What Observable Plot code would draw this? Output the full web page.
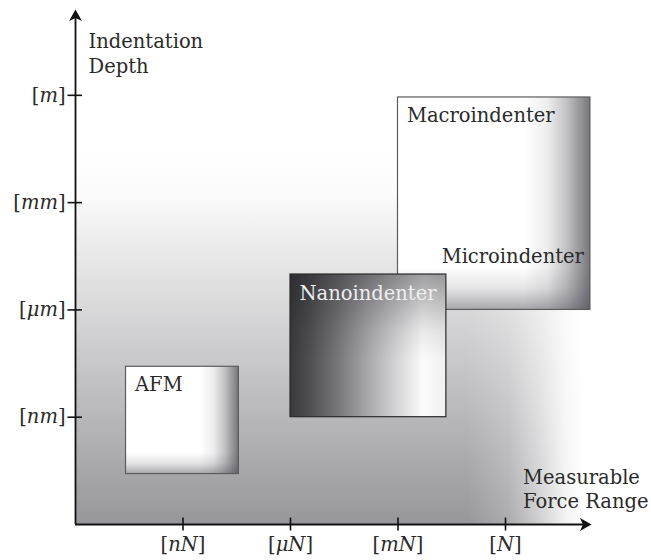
<!DOCTYPE html>
<html><head><meta charset="utf-8">
<script src="https://cdn.jsdelivr.net/npm/d3@7"></script>
<script src="https://cdn.jsdelivr.net/npm/@observablehq/plot@0.6"></script>
<style>body{margin:0;background:#fff} svg{display:block}</style>
</head><body>
<div id="chart"></div>
<script>
// ---- data (log-decade units: 1 = n, 2 = µ, 3 = m, 4 = unit) ----
const instruments = ["AFM", "Nanoindenter", "Macroindenter"];
const forceFrom = [0.47, 2.0, 3.0];
const forceTo   = [1.52, 3.45, 4.79];
const depthFrom = [0.47, 1.0, 2.0];
const depthTo   = [1.47, 2.33, 3.98];
const shading   = ["soft", "dark", "soft"];

const forceTicks  = [1, 2, 3, 4];
const forceLabels = ["[nN]", "[μN]", "[mN]", "[N]"];
const depthTicks  = [1, 2, 3, 4];
const depthLabels = ["[nm]", "[μm]", "[mm]", "[m]"];

const axisMax = 4.8;
const backgroundForce = [0, 4.8];
const backgroundDepth = [0, 3.5];

const innerLabel = ["Microindenter"];
const innerLabelForce = [4.79];
const innerLabelDepth = [2.0];

const yTitle = "Indentation\nDepth";
const xTitle = "Measurable\nForce Range";

// ---- tables ----
const boxes = instruments.map((name, i) => ({name, x1: forceFrom[i], x2: forceTo[i], y1: depthFrom[i], y2: depthTo[i], shade: shading[i]}));
const soft = boxes.filter(d => d.shade === "soft");
const dark = boxes.filter(d => d.shade === "dark");
const bg = [{x1: backgroundForce[0], x2: backgroundForce[1], y1: backgroundDepth[0], y2: backgroundDepth[1]}];
const xT = forceTicks.map((v, i) => ({v, label: forceLabels[i]}));
const yT = depthTicks.map((v, i) => ({v, label: depthLabels[i]}));
const inner = innerLabel.map((t, i) => ({t, x: innerLabelForce[i], y: innerLabelDepth[i]}));

const FONT = "DejaVu Serif";
const FS = 19.5;
const INK = "#2a2a2a";

const arrowUp = {draw(ctx) { ctx.moveTo(0, 0); ctx.lineTo(6.5, 11.5); ctx.lineTo(0, 8.5); ctx.lineTo(-6.5, 11.5); ctx.closePath(); }};
const arrowRight = {draw(ctx) { ctx.moveTo(0, 0); ctx.lineTo(-11.5, 6.5); ctx.lineTo(-8.5, 0); ctx.lineTo(-11.5, -6.5); ctx.closePath(); }};

const svg = Plot.plot({
  width: 651, height: 560,
  marginLeft: 75, marginRight: 60, marginTop: 9, marginBottom: 36,
  x: {domain: [0, axisMax], axis: null},
  y: {domain: [0, axisMax], axis: null},
  style: {fontFamily: FONT, background: "#fff"},
  marks: [
    Plot.rect(bg, {x1: "x1", x2: "x2", y1: "y1", y2: "y2", fill: "url(#bgGrad)"}),
    Plot.rect(bg, {x1: "x1", x2: "x2", y1: "y1", y2: "y2", fill: "url(#bgFade)"}),
    Plot.rect(soft, {x1: "x1", x2: "x2", y1: "y1", y2: "y2", fill: "#ffffff"}),
    Plot.rect(soft, {x1: "x1", x2: "x2", y1: "y1", y2: "y2", fill: "url(#shadeR)"}),
    Plot.rect(soft, {x1: "x1", x2: "x2", y1: "y1", y2: "y2", fill: "url(#shadeB)"}),
    Plot.rect(soft, {x1: "x1", x2: "x2", y1: "y1", y2: "y2", fill: "none", stroke: "#5c5c5e", strokeWidth: 1.2}),
    Plot.rect(dark, {x1: "x1", x2: "x2", y1: "y1", y2: "y2", fill: "url(#nanoH)"}),
    Plot.rect(dark, {x1: "x1", x2: "x2", y1: "y1", y2: "y2", fill: "url(#nanoV)"}),
    Plot.rect(dark, {x1: "x1", x2: "x2", y1: "y1", y2: "y2", fill: "none", stroke: "#2a2a2c", strokeWidth: 1.2}),
    Plot.text(soft, {x: "x1", y: "y2", text: "name", textAnchor: "start", lineAnchor: "middle", dx: 9, dy: 17.8, fontSize: FS, fontFamily: FONT, fill: INK}),
    Plot.text(dark, {x: "x1", y: "y2", text: "name", textAnchor: "start", lineAnchor: "middle", dx: 9, dy: 18.8, fontSize: FS, fontFamily: FONT, fill: "#eeeeee"}),
    Plot.text(inner, {x: "x", y: "y", text: "t", textAnchor: "end", lineAnchor: "middle", dx: -6.5, dy: -53, fontSize: FS, fontFamily: FONT, fill: INK}),
    // axes
    Plot.ruleX([0], {y1: 0, y2: axisMax - 0.06, stroke: "#111", strokeWidth: 1.8}),
    Plot.ruleY([0], {x1: 0, x2: axisMax - 0.06, stroke: "#111", strokeWidth: 1.8}),
    Plot.dot([0], {x: 0, y: axisMax, symbol: arrowUp, fill: "#111", stroke: "none", r: 5}),
    Plot.dot([0], {x: axisMax, y: 0, symbol: arrowRight, fill: "#111", stroke: "none", r: 5}),
    Plot.ruleX(xT, {x: "v", y1: -0.06, y2: 0.06, stroke: "#111", strokeWidth: 1.6}),
    Plot.ruleY(yT, {y: "v", x1: -0.07, x2: 0.065, stroke: "#111", strokeWidth: 1.6}),
    Plot.text(xT, {x: "v", y: 0, text: "label", textAnchor: "middle", lineAnchor: "middle", dy: 20, fontSize: FS, fontFamily: FONT, fill: INK}),
    Plot.text(yT, {x: 0, y: "v", text: "label", textAnchor: "end", lineAnchor: "middle", dx: -10, fontSize: FS, fontFamily: FONT, fill: INK}),
    Plot.text([yTitle], {x: 0, y: axisMax, text: d => d, textAnchor: "start", lineAnchor: "top", lineHeight: 1.282, dx: 13, dy: 20.3, fontSize: FS, fontFamily: FONT, fill: INK}),
    Plot.text([xTitle], {x: axisMax, y: 0, text: d => d, textAnchor: "start", lineAnchor: "top", lineHeight: 1.23, dx: -68.5, dy: -58, fontSize: FS, fontFamily: FONT, fill: INK})
  ]
});

// gradient definitions
const NS = "http://www.w3.org/2000/svg";
const defs = document.createElementNS(NS, "defs");
function grad(id, vertical, stops) {
  const g = document.createElementNS(NS, "linearGradient");
  g.setAttribute("id", id);
  g.setAttribute("x1", 0); g.setAttribute("y1", 0);
  g.setAttribute("x2", vertical ? 0 : 1); g.setAttribute("y2", vertical ? 1 : 0);
  for (const [o, c, a] of stops) {
    const s = document.createElementNS(NS, "stop");
    s.setAttribute("offset", o);
    s.setAttribute("stop-color", c);
    s.setAttribute("stop-opacity", a == null ? 1 : a);
    g.appendChild(s);
  }
  defs.appendChild(g);
}
grad("bgGrad", true, [[0, "#ffffff"], [0.12, "#fbfbfb"], [1, "#97979b"]]);
grad("bgFade", false, [[0, "#ffffff", 0], [0.76, "#ffffff", 0], [0.84, "#ffffff", 0.2], [0.9, "#ffffff", 0.55], [0.95, "#ffffff", 0.88], [0.985, "#ffffff", 1], [1, "#ffffff", 1]]);
grad("shadeR", false, [[0, "#4e4e56", 0], [0.66, "#4e4e56", 0], [0.78, "#4e4e56", 0.1], [0.88, "#4e4e56", 0.35], [0.95, "#4e4e56", 0.6], [1, "#4e4e56", 0.78]]);
grad("shadeB", true, [[0, "#4e4e56", 0], [0.8, "#4e4e56", 0], [0.9, "#4e4e56", 0.15], [0.96, "#4e4e56", 0.35], [1, "#4e4e56", 0.5]]);
grad("nanoH", false, [[0, "#38383d"], [0.12, "#4c4c51"], [0.3, "#747479"], [0.5, "#a8a8ac"], [0.7, "#d8d8da"], [0.85, "#fbfbfb"], [1, "#f0f0f0"]]);
grad("nanoV", true, [[0, "#1e1e22", 0.42], [0.2, "#1e1e22", 0.24], [0.4, "#1e1e22", 0.08], [0.6, "#1e1e22", 0]]);
svg.insertBefore(defs, svg.firstChild);

// italic unit symbols inside upright brackets
svg.querySelectorAll("text").forEach(t => {
  const m = /^\[(.+)\]$/.exec(t.textContent);
  if (!m || t.children.length) return;
  t.textContent = "";
  const parts = [["[", false], [m[1], true], ["]", false]];
  for (const [s, it] of parts) {
    const sp = document.createElementNS(NS, "tspan");
    if (it) sp.setAttribute("font-style", "italic");
    sp.textContent = s;
    t.appendChild(sp);
  }
});

document.getElementById("chart").appendChild(svg);
</script>
</body></html>
